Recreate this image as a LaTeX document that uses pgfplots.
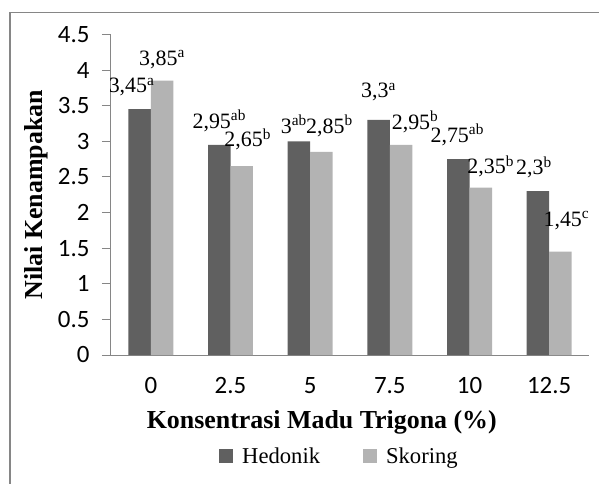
\documentclass[border=0pt]{standalone}
\usepackage{fontspec}
\setmainfont{Liberation Serif}
\newfontfamily\calibri{Carlito}
\usepackage{pgfplots}
\pgfplotsset{compat=1.18}
\usepackage{pgfplotstable}

\definecolor{hedonik}{HTML}{606060}
\definecolor{skoring}{HTML}{B3B3B3}
\definecolor{axisgray}{HTML}{868686}

\tikzset{lab/.style={font=\fontsize{22}{24}\selectfont, inner sep=0pt, anchor=center}}

% Nilai kenampakan per konsentrasi madu trigona
\pgfplotstableread{
x hed sko
0 3.45 3.85
1 2.95 2.65
2 3.00 2.85
3 3.30 2.95
4 2.75 2.35
5 2.30 1.45
}\kenampakan

\begin{document}
\begin{tikzpicture}
\begin{axis}[
  at={(0,0)}, anchor=south west,
  width=478bp, height=320.6bp, scale only axis,
  xmin=-0.5, xmax=5.5, ymin=0, ymax=4.5,
  ybar=0pt, bar width=0.2824,
  axis x line*=bottom, axis y line*=left,
  axis line style={axisgray, line width=1bp, -},
  xtick=data, xticklabels={0,2.5,5,7.5,10,12.5},
  ytick={0,0.5,...,4.5},
  x tick style={draw=none},
  y tick style={axisgray, line width=1bp},
  tick align=outside, major tick length=9bp,
  ticklabel style={font=\calibri\fontsize{25}{26}\selectfont},
  yticklabel style={xshift=-9bp},
  xticklabel style={yshift=-10bp},
  /pgf/number format/assume math mode=true,
  xlabel={\textbf{Konsentrasi Madu Trigona (\%)}},
  ylabel={\textbf{Nilai Kenampakan}},
  label style={font=\fontsize{26}{28}\selectfont},
  xlabel style={at={(axis description cs:0.441,-0.209)}, anchor=center},
  ylabel style={at={(axis description cs:-0.157,0.5)}, anchor=center},
  legend columns=2,
  legend style={draw=none, fill=none, at={(axis description cs:0.478,-0.315)}, anchor=center,
    font=\fontsize{22.7}{24}\selectfont,
    /tikz/every even column/.append style={column sep=41bp}},
  legend image code/.code={\fill[#1] (0bp,-7bp) rectangle (14bp,7bp); \path (21bp,0bp);},
]
\addplot[fill=hedonik, draw=none] table[x=x, y=hed] {\kenampakan};
\addplot[fill=skoring, draw=none] table[x=x, y=sko] {\kenampakan};
\legend{Hedonik, Skoring}

% value labels with significance letters
\node[lab, xshift=-8bp, yshift=22bp] at (axis cs:-0.1412,3.45) {3,45\textsuperscript{a}};
\node[lab, xshift=0bp, yshift=21bp] at (axis cs:0.1412,3.85) {3,85\textsuperscript{a}};
\node[lab, xshift=0bp, yshift=24bp] at (axis cs:0.8588,2.95) {2,95\textsuperscript{ab}};
\node[lab, xshift=6bp, yshift=27bp] at (axis cs:1.1412,2.65) {2,65\textsuperscript{b}};
\node[lab, xshift=-5bp, yshift=17bp] at (axis cs:1.8588,3.00) {3\textsuperscript{ab}};
\node[lab, xshift=8bp, yshift=26bp] at (axis cs:2.1412,2.85) {2,85\textsuperscript{b}};
\node[lab, xshift=0bp, yshift=28bp] at (axis cs:2.8588,3.30) {3,3\textsuperscript{a}};
\node[lab, xshift=14bp, yshift=23bp] at (axis cs:3.1412,2.95) {2,95\textsuperscript{b}};
\node[lab, xshift=-1bp, yshift=24bp] at (axis cs:3.8588,2.75) {2,75\textsuperscript{ab}};
\node[lab, xshift=10bp, yshift=21bp] at (axis cs:4.1412,2.35) {2,35\textsuperscript{b}};
\node[lab, xshift=-4bp, yshift=24bp] at (axis cs:4.8588,2.30) {2,3\textsuperscript{b}};
\node[lab, xshift=6bp, yshift=31bp] at (axis cs:5.1412,1.45) {1,45\textsuperscript{c}};
\end{axis}
% chart area border
\draw[axisgray, line width=1.5bp] (-101bp,-200bp) rectangle (600bp,342.7bp);
\pgfresetboundingbox
\useasboundingbox (-111bp,-129bp) rectangle (488bp,355bp);
\end{tikzpicture}
\end{document}
